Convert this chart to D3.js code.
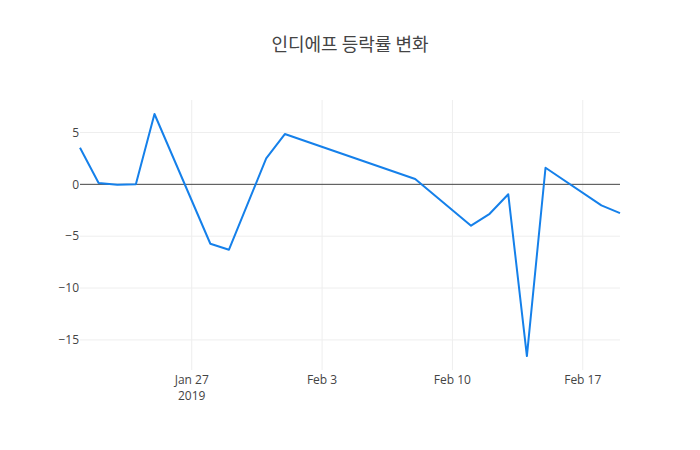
<!DOCTYPE html>
<html>
<head>
<meta charset="utf-8">
<script src="https://d3js.org/d3.v7.min.js"></script>
<style>
  body { margin: 0; background: #fff; }
  text { font-family: "Open Sans", "Noto Sans CJK KR", sans-serif; fill: #444; }
</style>
</head>
<body>
<div id="chart"></div>
<script>
// daily change (%)
var dates = ["2019-01-21","2019-01-22","2019-01-23","2019-01-24","2019-01-25",
             "2019-01-28","2019-01-29","2019-01-31","2019-02-01","2019-02-08",
             "2019-02-11","2019-02-12","2019-02-13","2019-02-14","2019-02-15",
             "2019-02-18","2019-02-19"];
var changes = [3.53, 0.13, -0.03, 0.0, 6.78,
               -5.73, -6.3, 2.5, 4.85, 0.51,
               -3.99, -2.84, -0.96, -16.56, 1.6,
               -2.03, -2.77];
var yTicks = [5, 0, -5, -10, -15];
var xTicks = ["2019-01-27","2019-02-03","2019-02-10","2019-02-17"];
var title = "인디에프 등락률 변화";

var W = 700, H = 450;
var margin = {top: 100, right: 80, bottom: 80, left: 80};
var parse = d3.timeParse("%Y-%m-%d");
var data = dates.map(function(d, i) { return {date: parse(d), v: changes[i]}; });

var svg = d3.select("#chart").append("svg")
  .attr("width", W).attr("height", H);

var x = d3.scaleTime()
  .domain(d3.extent(data, function(d) { return d.date; }))
  .range([margin.left, W - margin.right]);
var y = d3.scaleLinear()
  .domain([-17.9, 8.13])
  .range([H - margin.bottom, margin.top]);

// grid
svg.append("g").selectAll("line").data(xTicks).enter().append("line")
  .attr("x1", function(d) { return x(parse(d)); })
  .attr("x2", function(d) { return x(parse(d)); })
  .attr("y1", margin.top).attr("y2", H - margin.bottom)
  .attr("stroke", "#eee").attr("stroke-width", 1);
svg.append("g").selectAll("line").data(yTicks.filter(function(t) { return t !== 0; })).enter().append("line")
  .attr("x1", margin.left).attr("x2", W - margin.right)
  .attr("y1", function(d) { return y(d); })
  .attr("y2", function(d) { return y(d); })
  .attr("stroke", "#eee").attr("stroke-width", 1);

// zero line
svg.append("line")
  .attr("x1", margin.left).attr("x2", W - margin.right)
  .attr("y1", y(0)).attr("y2", y(0))
  .attr("stroke", "#444").attr("stroke-width", 1);

// y labels
svg.append("g").selectAll("text").data(yTicks).enter().append("text")
  .attr("x", margin.left - 1)
  .attr("y", function(d) { return y(d); })
  .attr("dy", "0.35em")
  .attr("text-anchor", "end")
  .style("font-size", "12px")
  .text(function(d) { return d < 0 ? "\u2212" + Math.abs(d) : d; });

// x labels
var fmt = d3.timeFormat("%b %-d");
svg.append("g").selectAll("text").data(xTicks).enter().append("text")
  .attr("x", function(d) { return x(parse(d)); })
  .attr("y", H - margin.bottom + 14)
  .attr("text-anchor", "middle")
  .style("font-size", "12px")
  .text(function(d) { return fmt(parse(d)); });
// year under the first tick
svg.append("text")
  .attr("x", x(parse(xTicks[0])))
  .attr("y", H - margin.bottom + 30)
  .attr("text-anchor", "middle")
  .style("font-size", "12px")
  .text("2019");

// line
var line = d3.line()
  .x(function(d) { return x(d.date); })
  .y(function(d) { return y(d.v); });
svg.append("path").datum(data)
  .attr("d", line)
  .attr("fill", "none")
  .attr("stroke", "#1580ea")
  .attr("stroke-width", 2)
  .attr("stroke-linejoin", "round");

// title
svg.append("text")
  .attr("x", W / 2).attr("y", 51)
  .attr("text-anchor", "middle")
  .style("font-family", "'Noto Sans CJK KR', sans-serif")
  .style("font-size", "18px")
  .text(title);
</script>
</body>
</html>
